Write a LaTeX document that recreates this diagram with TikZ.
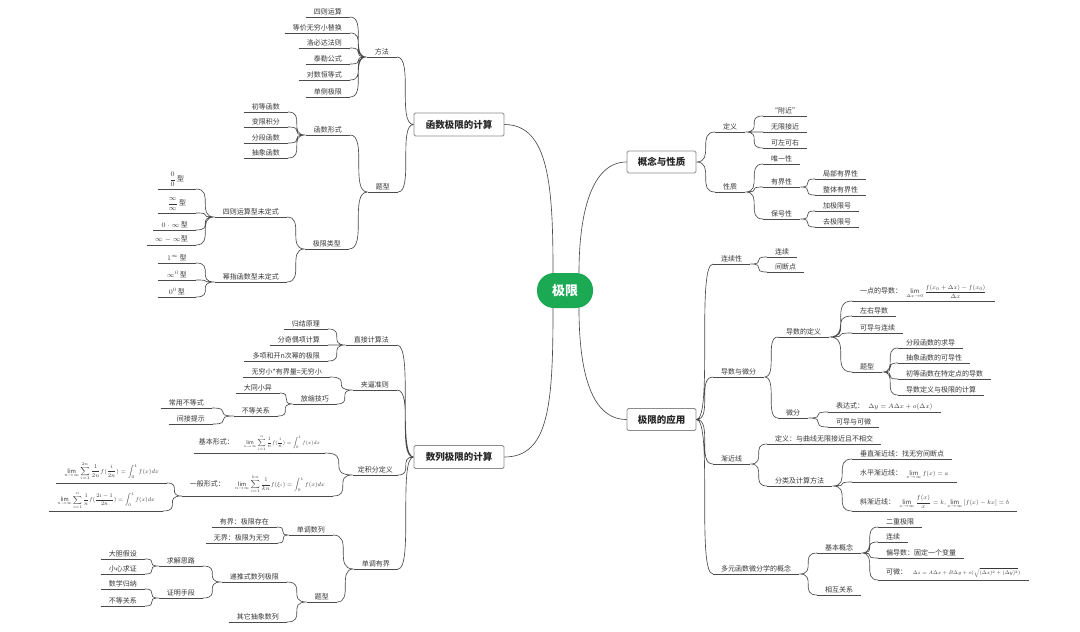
\documentclass[tikz,border=0pt]{standalone}
\usepackage{fontspec}
\usepackage{amsmath}
\usepackage{graphicx}
\setmainfont{Noto Sans CJK SC}
\definecolor{rootgreen}{RGB}{27,170,83}
\definecolor{linegray}{RGB}{75,75,75}
\definecolor{textgray}{RGB}{55,55,55}
\newcommand{\fml}[2][0.8]{\scalebox{#1}{$\displaystyle #2$}}
\tikzset{
  linkline/.style={draw=linegray,line width=0.65pt},
  link/.style={linkline,to path={.. controls (\tikztostart -| \tikztotarget) and (\tikztostart |- \tikztotarget) .. (\tikztotarget)}},
  leaf/.style={font=\fontsize{7}{8}\selectfont,text=textgray,inner xsep=8pt,inner ysep=2pt,
    append after command={(\tikzlastnode.south west) edge[linkline] (\tikzlastnode.south east)}},
  lleaf/.style={leaf,anchor=south east},
  rleaf/.style={leaf,anchor=south west},
  topic/.style={draw=black!45,line width=0.8pt,rounded corners=1.5pt,fill=white,text=black!85,
    font=\fontsize{9.5}{11}\selectfont\bfseries,minimum width=90,minimum height=23},
  rootnode/.style={fill=rootgreen,rounded corners=17pt,minimum width=56,minimum height=35,
    text=white,font=\fontsize{13}{15}\selectfont\bfseries}
}

\begin{document}
\begin{tikzpicture}[x=1pt,y=-1pt]
\fill[white] (0,0) rectangle (1080,632);
\useasboundingbox (0,0) rectangle (1080,632);

% centre and the four topics
\node[rootnode] (ctr) at (565,290.5) {极限};
\node[topic] (f) at (459,124.5) {函数极限的计算};
\node[topic] (s) at (459,457) {数列极限的计算};
\node[topic,minimum width=69,minimum height=22] (g) at (661.5,162) {概念与性质};
\node[topic,minimum width=69,minimum height=22] (y) at (661.5,419.5) {极限的应用};

\draw[linkline] ([xshift=-12pt]ctr.north) .. controls +(0,-85) and +(45,0) .. (f.east);
\draw[linkline] ([xshift=-12pt]ctr.south) .. controls +(0,95) and +(45,0) .. (s.east);
\draw[linkline] ([xshift=14pt]ctr.north) .. controls +(0,-60) and +(-35,0) .. (g.west);
\draw[linkline] ([xshift=14pt]ctr.south) .. controls +(0,65) and +(-35,0) .. (y.west);

% 函数极限的计算
\node[lleaf] (f1) at (397,57) {方法};
\node[lleaf] (f11) at (350,17) {四则运算};
\node[lleaf] (f12) at (350,33) {等价无穷小替换};
\node[lleaf] (f13) at (350,48) {洛必达法则};
\node[lleaf] (f14) at (350,64) {泰勒公式};
\node[lleaf] (f15) at (350,80) {对数恒等式};
\node[lleaf] (f16) at (350,97) {单侧极限};
\node[lleaf] (f2) at (398,192) {题型};
\node[lleaf] (f21) at (350,135) {函数形式};
\node[lleaf] (f211) at (288,112) {初等函数};
\node[lleaf] (f212) at (288,127) {变限积分};
\node[lleaf] (f213) at (288,143) {分段函数};
\node[lleaf] (f214) at (288,158) {抽象函数};
\node[lleaf] (f22) at (349,249) {极限类型};
\node[lleaf] (f221) at (287,217) {四则运算型未定式};
\node[lleaf,minimum width=38] (f2211) at (196,189) {$\dfrac{0}{0}$\,型};
\node[lleaf,minimum width=38] (f2212) at (196,213) {$\dfrac{\infty}{\infty}$\,型};
\node[lleaf,minimum width=38] (f2213) at (196,230) {$0\cdot\infty$\,型};
\node[lleaf,minimum width=38] (f2214) at (196,245) {$\infty-\infty$型};
\node[lleaf] (f222) at (287,282) {幂指函数型未定式};
\node[lleaf,minimum width=38] (f2221) at (196,263) {$1^{\infty}$\,型};
\node[lleaf,minimum width=38] (f2222) at (196,280) {$\infty^{0}$\,型};
\node[lleaf,minimum width=38] (f2223) at (196,297) {$0^{0}$\,型};

\draw[link] (f.west) to (f1.south east) (f.west) to (f2.south east);
\draw[link] (f1.south west) to (f11.south east) (f1.south west) to (f12.south east)
  (f1.south west) to (f13.south east) (f1.south west) to (f14.south east)
  (f1.south west) to (f15.south east) (f1.south west) to (f16.south east);
\draw[link] (f2.south west) to (f21.south east) (f2.south west) to (f22.south east);
\draw[link] (f21.south west) to (f211.south east) (f21.south west) to (f212.south east)
  (f21.south west) to (f213.south east) (f21.south west) to (f214.south east);
\draw[link] (f22.south west) to (f221.south east) (f22.south west) to (f222.south east);
\draw[link] (f221.south west) to (f2211.south east) (f221.south west) to (f2212.south east)
  (f221.south west) to (f2213.south east) (f221.south west) to (f2214.south east);
\draw[link] (f222.south west) to (f2221.south east) (f222.south west) to (f2222.south east)
  (f222.south west) to (f2223.south east);

% 数列极限的计算
\node[lleaf] (s1) at (397,345) {直接计算法};
\node[lleaf] (s11) at (328,329) {归结原理};
\node[lleaf] (s12) at (328,345) {分奇偶项计算};
\node[lleaf] (s13) at (328,361) {多项和开n次幂的极限};
\node[lleaf] (s2) at (397,390) {夹逼准则};
\node[lleaf] (s21) at (330,377) {无穷小*有界量=无穷小};
\node[lleaf] (s22) at (337,404) {放缩技巧};
\node[lleaf] (s221) at (280,393) {大同小异};
\node[lleaf] (s222) at (278,416) {不等关系};
\node[lleaf] (s2221) at (212,408) {常用不等式};
\node[lleaf] (s2222) at (213,424) {间接提示};
\node[lleaf,inner xsep=5pt] (s3) at (398,475) {定积分定义};
\node[lleaf,inner xsep=5pt] (s31) at (325,453)
  {基本形式：\hspace{1.4em}\fml[0.72]{\lim_{n\to\infty}\sum_{i=1}^{n}\frac{1}{n}f(\frac{i}{n})=\int_0^1 f(x)dx}};
\node[lleaf] (s32) at (333,496)
  {一般形式：\hspace{1.4em}\fml[0.82]{\lim_{n\to\infty}\sum_{i=1}^{kn}\frac{1}{kn}f(\xi_i)=\int_0^1 f(x)dx}};
\node[lleaf] (s321) at (167,483)
  {\fml[0.83]{\lim_{n\to\infty}\sum_{i=1}^{2n}\frac{1}{2n}f(\frac{i}{2n})=\int_0^1 f(x)dx}};
\node[lleaf] (s322) at (163,511)
  {\fml[0.8]{\lim_{n\to\infty}\sum_{i=1}^{n}\frac{1}{n}f(\frac{2i-1}{2n})=\int_0^1 f(x)dx}};
\node[lleaf] (s4) at (398,569) {单调有界};
\node[lleaf] (s41) at (333,535) {单调数列};
\node[lleaf] (s411) at (277,527) {有界：极限存在};
\node[lleaf] (s412) at (278,543) {无界：极限为无穷};
\node[lleaf] (s42) at (337,602) {题型};
\node[lleaf] (s421) at (287,582) {递推式数列极限};
\node[lleaf] (s4211) at (203,566) {求解思路};
\node[lleaf] (s42111) at (145,559) {大胆假设};
\node[lleaf] (s42112) at (145,574) {小心求证};
\node[lleaf] (s4212) at (203,598) {证明手段};
\node[lleaf] (s42121) at (145,589) {数学归纳};
\node[lleaf] (s42122) at (145,606) {不等关系};
\node[lleaf] (s422) at (287,622) {其它抽象数列};

\draw[link] (s.west) to (s1.south east) (s.west) to (s2.south east)
  (s.west) to (s3.south east) (s.west) to (s4.south east);
\draw[link] (s1.south west) to (s11.south east) (s1.south west) to (s12.south east)
  (s1.south west) to (s13.south east);
\draw[link] (s2.south west) to (s21.south east) (s2.south west) to (s22.south east);
\draw[link] (s22.south west) to (s221.south east) (s22.south west) to (s222.south east);
\draw[link] (s222.south west) to (s2221.south east) (s222.south west) to (s2222.south east);
\draw[link] (s3.south west) to (s31.south east) (s3.south west) to (s32.south east);
\draw[link] (s32.south west) to (s321.south east) (s32.south west) to (s322.south east);
\draw[link] (s4.south west) to (s41.south east) (s4.south west) to (s42.south east);
\draw[link] (s41.south west) to (s411.south east) (s41.south west) to (s412.south east);
\draw[link] (s42.south west) to (s421.south east) (s42.south west) to (s422.south east);
\draw[link] (s421.south west) to (s4211.south east) (s421.south west) to (s4212.south east);
\draw[link] (s4211.south west) to (s42111.south east) (s4211.south west) to (s42112.south east);
\draw[link] (s4212.south west) to (s42121.south east) (s4212.south west) to (s42122.south east);

% 概念与性质
\node[rleaf] (g1) at (715,132) {定义};
\node[rleaf] (g11) at (763,116) {“附近”};
\node[rleaf] (g12) at (763,132) {无限接近};
\node[rleaf] (g13) at (763,148) {可左可右};
\node[rleaf] (g2) at (715,192) {性质};
\node[rleaf] (g21) at (763,164) {唯一性};
\node[rleaf] (g22) at (763,187) {有界性};
\node[rleaf] (g221) at (815,179) {局部有界性};
\node[rleaf] (g222) at (815,195) {整体有界性};
\node[rleaf] (g23) at (763,219) {保号性};
\node[rleaf] (g231) at (815,211) {加极限号};
\node[rleaf] (g232) at (815,227) {去极限号};

\draw[link] (g.east) to (g1.south west) (g.east) to (g2.south west);
\draw[link] (g1.south east) to (g11.south west) (g1.south east) to (g12.south west)
  (g1.south east) to (g13.south west);
\draw[link] (g2.south east) to (g21.south west) (g2.south east) to (g22.south west)
  (g2.south east) to (g23.south west);
\draw[link] (g22.south east) to (g221.south west) (g22.south east) to (g222.south west);
\draw[link] (g23.south east) to (g231.south west) (g23.south east) to (g232.south west);

% 极限的应用
\node[rleaf] (y1) at (713,264) {连续性};
\node[rleaf] (y11) at (767,257) {连续};
\node[rleaf] (y12) at (767,272) {间断点};
\node[rleaf] (y2) at (713,377) {导数与微分};
\node[rleaf] (y21) at (778,337) {导数的定义};
\node[rleaf] (y211) at (852,301)
  {一点的导数：\hspace{0.6em}\fml[0.86]{\lim_{\Delta x\to 0}\frac{f(x_0+\Delta x)-f(x_0)}{\Delta x}}};
\node[rleaf] (y212) at (852,316) {左右导数};
\node[rleaf] (y213) at (852,333) {可导与连续};
\node[rleaf] (y214) at (852,372) {题型};
\node[rleaf] (y2141) at (898,348) {分段函数的求导};
\node[rleaf] (y2142) at (898,363) {抽象函数的可导性};
\node[rleaf] (y2143) at (898,379) {初等函数在特定点的导数};
\node[rleaf] (y2144) at (898,395) {导数定义与极限的计算};
\node[rleaf] (y22) at (778,418) {微分};
\node[rleaf] (y221) at (828,412) {表达式：\hspace{0.6em}\fml[0.92]{\Delta y=A\Delta x+o(\Delta x)}};
\node[rleaf] (y222) at (828,427) {可导与可微};
\node[rleaf] (y3) at (713,464) {渐近线};
\node[rleaf] (y31) at (767,444) {定义：与曲线无限接近且不相交};
\node[rleaf] (y32) at (767,486) {分类及计算方法};
\node[rleaf] (y321) at (852,459) {垂直渐近线：找无穷间断点};
\node[rleaf] (y322) at (852,482)
  {水平渐近线：\hspace{0.6em}\fml[0.85]{\lim_{x\to\infty}f(x)=a}};
\node[rleaf] (y323) at (852,511)
  {斜渐近线：\hspace{0.6em}\fml[0.86]{\lim_{x\to\infty}\frac{f(x)}{x}=k,\lim_{x\to\infty}\left[f(x)-kx\right]=b}};
\node[rleaf] (y4) at (713,574) {多元函数微分学的概念};
\node[rleaf] (y41) at (817,553) {基本概念};
\node[rleaf] (y411) at (878,527) {二重极限};
\node[rleaf] (y412) at (878,542) {连续};
\node[rleaf] (y413) at (878,558) {偏导数：固定一个变量};
\node[rleaf] (y414) at (878,580)
  {可微：\hspace{0.8em}\fml[0.74]{\Delta z=A\Delta x+B\Delta y+o(\sqrt{(\Delta x)^2+(\Delta y)^2})}};
\node[rleaf] (y42) at (817,595) {相互关系};

\draw[link] (y.east) to (y1.south west) (y.east) to (y2.south west)
  (y.east) to (y3.south west) (y.east) to (y4.south west);
\draw[link] (y1.south east) to (y11.south west) (y1.south east) to (y12.south west);
\draw[link] (y2.south east) to (y21.south west) (y2.south east) to (y22.south west);
\draw[link] (y21.south east) to (y211.south west) (y21.south east) to (y212.south west)
  (y21.south east) to (y213.south west) (y21.south east) to (y214.south west);
\draw[link] (y214.south east) to (y2141.south west) (y214.south east) to (y2142.south west)
  (y214.south east) to (y2143.south west) (y214.south east) to (y2144.south west);
\draw[link] (y22.south east) to (y221.south west) (y22.south east) to (y222.south west);
\draw[link] (y3.south east) to (y31.south west) (y3.south east) to (y32.south west);
\draw[link] (y32.south east) to (y321.south west) (y32.south east) to (y322.south west)
  (y32.south east) to (y323.south west);
\draw[link] (y4.south east) to (y41.south west) (y4.south east) to (y42.south west);
\draw[link] (y41.south east) to (y411.south west) (y41.south east) to (y412.south west)
  (y41.south east) to (y413.south west) (y41.south east) to (y414.south west);
\end{tikzpicture}
\end{document}
